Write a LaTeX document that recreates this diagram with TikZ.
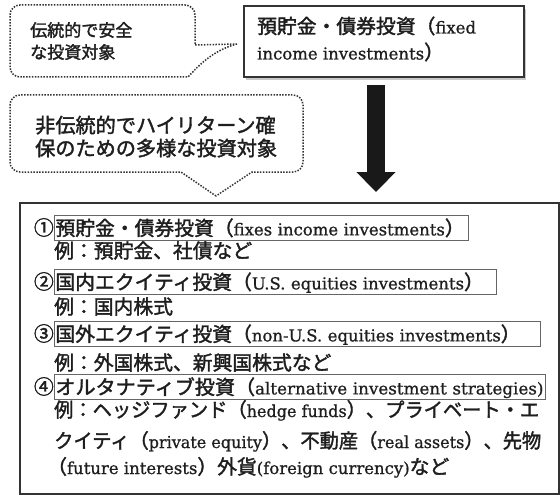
\documentclass[tikz,border=0pt]{standalone}
\usepackage{fontspec}
\usepackage{graphicx}
\setmainfont{DejaVu Serif}[FakeBold=0.9]
\newfontfamily\jp{Noto Sans CJK JP}[Scale=1.2, FakeBold=1.8]
\newcommand\J[1]{{\jp #1}}
\usetikzlibrary{shadows,arrows.meta}
\definecolor{ink}{HTML}{1E1E1E}
\definecolor{edge}{HTML}{333333}
\begin{document}
\begin{tikzpicture}[x=1pt,y=-1pt,
  callout/.style={draw=edge, line width=1.5pt, dash pattern=on 1.5pt off 1.4pt},
  fixedbox/.style={draw=edge, line width=1.6pt, fill=white, anchor=north west,
     drop shadow={shadow xshift=2pt, shadow yshift=-3pt, opacity=0.3, fill=black!70}},
  mainbox/.style={draw=edge, line width=1.5pt, anchor=north west},
  itembox/.style={draw=black!60, line width=0.9pt, anchor=west, inner xsep=1pt, inner ysep=0pt,
     minimum height=25pt, align=left, text height=17pt, text depth=2.2pt, text=ink},
  txt/.style={anchor=base west, inner sep=0pt, text=ink},
  num/.style={anchor=base east, inner sep=0pt, text=ink},
  bigarrow/.style={draw=black!90, line width=18pt, -{Triangle[width=38pt,length=20pt]}}
]
\useasboundingbox (0,0) rectangle (560,495);

% callout 1
\draw[callout] (237,44) .. controls (214,50) and (200,64) .. (188,77) -- (20,77)
  arc[start angle=90,end angle=180,radius=10] -- (10,15)
  arc[start angle=180,end angle=270,radius=10] -- (185,5)
  arc[start angle=270,end angle=360,radius=10] -- (195,45) -- cycle;
\node[txt, font=\fontsize{14.2}{16}\selectfont] (c1a) at (30,36.5) {\J{伝統的で安全}};
\node[txt, font=\fontsize{14.2}{16}\selectfont] (c1b) at (30,58.5) {\J{な投資対象}};

% fixed box
\node[fixedbox, minimum width=280pt, minimum height=71pt] (fixed) at (243,5) {};
\node[txt, font=\fontsize{16.5}{18}\selectfont] (f1) at (257,33.5) {\J{預貯金・債券投資（}fixed};
\node[txt, font=\fontsize{16.5}{18}\selectfont] (f2) at (257,59.5) {income investments\J{）}};

% callout 2
\draw[callout] (216,196) -- (181,172) -- (20,172)
  arc[start angle=90,end angle=180,radius=10] -- (10,105)
  arc[start angle=180,end angle=270,radius=10] -- (293,95)
  arc[start angle=270,end angle=360,radius=10] -- (303,162)
  arc[start angle=0,end angle=90,radius=10] -- (252,172) -- cycle;
\node[txt, font=\fontsize{16.8}{18}\selectfont] (c2a) at (35,132.7) {\J{非伝統的でハイリターン確}};
\node[txt, font=\fontsize{16.8}{18}\selectfont] (c2b) at (35,155.7) {\J{保のための多様な投資対象}};

% arrow
\coordinate (a1) at (376,85);
\coordinate (a2) at (376,192);
\draw[bigarrow] (a1) -- (a2);

% main box
\node[mainbox, minimum width=539pt, minimum height=291pt] (main) at (19,202) {};

\begin{scope}[font=\fontsize{16.5}{18}\selectfont]
\node[num] (n1) at (54,235) {\J{①}};
\node[itembox, text width=412pt] (i1) at (54,228) {\mbox{\J{預貯金・債券投資（}fixes income investments\J{）}}};
\node[txt] (e1) at (54,258) {\J{例：預貯金、社債など}};
\node[num] (n2) at (54,289) {\J{②}};
\node[itembox, text width=440pt] (i2) at (54,282) {\mbox{\J{国内エクイティ投資（}U.S. equities investments\J{）}}};
\node[txt] (e2) at (54,314) {\J{例：国内株式}};
\node[num] (n3) at (54,341) {\J{③}};
\node[itembox, text width=484pt] (i3) at (54,334) {\mbox{\J{国外エクイティ投資（}non-U.S. equities investments\J{）}}};
\node[txt] (e3) at (54,370) {\J{例：外国株式、新興国株式など}};
\node[num] (n4) at (54,394) {\J{④}};
\node[itembox, text width=489pt] (i4) at (54,387) {\resizebox{488pt}{\height}{\J{オルタナティブ投資（}alternative investment strategies)}};
\node[txt] (e4a) at (54,417) {\resizebox{485pt}{\height}{\J{例：ヘッジファンド（}hedge funds\J{）、プライベート・エ}}};
\node[txt] (e4b) at (54,448) {\resizebox{487pt}{\height}{\J{クイティ（}private equity\J{）、不動産（}real assets\J{）、先物}}};
\node[txt] (e4c) at (47,474) {\J{（}future interests\J{）外貨}(foreign currency)\J{など}};
\end{scope}
\end{tikzpicture}
\end{document}
